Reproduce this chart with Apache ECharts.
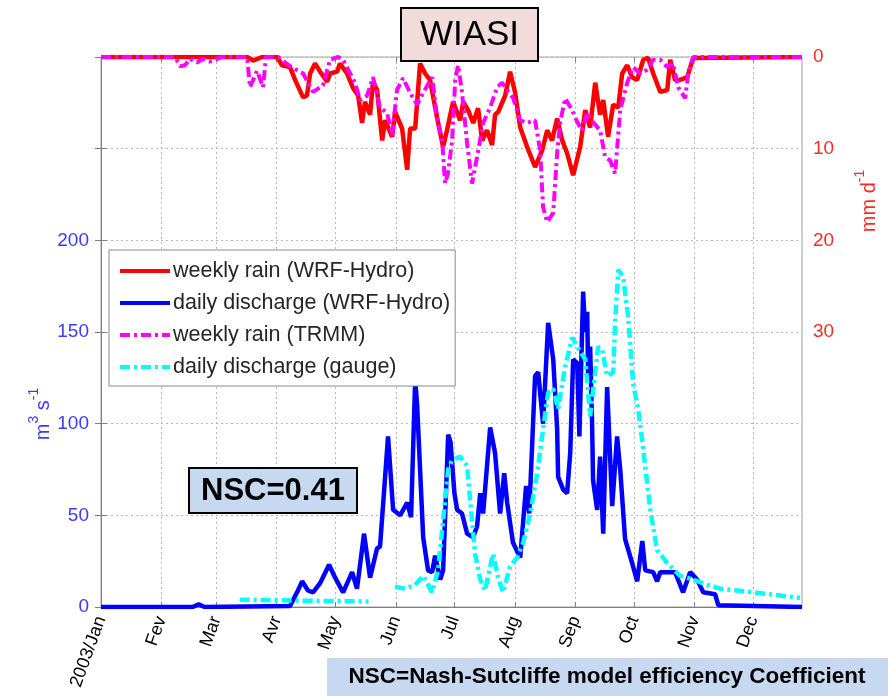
<!DOCTYPE html>
<html>
<head>
<meta charset="utf-8">
<script src="https://cdn.jsdelivr.net/npm/echarts@6/dist/echarts.min.js"></script>
<style>
html,body{margin:0;padding:0;background:#fff;}
#c{width:888px;height:696px;}
</style>
</head>
<body>
<div id="c"></div>
<script>
// ---- data (x = day of year 2003, 0 = Jan 1) ----
var monthStarts = [0,31,59,90,120,151,181,212,243,273,304,334];
var monthLabels = ['2003/Jan','Fev','Mar','Avr','May','Jun','Jul','Aug','Sep','Oct','Nov','Dec'];
var seriesNames = ['weekly rain (WRF-Hydro)','daily discharge (WRF-Hydro)','weekly rain (TRMM)','daily discharge (gauge)'];

// weekly rain WRF-Hydro (mm/d)
var rainWrf = [[0,0],[74.8,0],[77.9,0.4],[82.5,0],[90.2,0],[92.7,0.9],[96.8,1.1],[99.4,2.5],[103.5,4.4],[105.5,4.2],[107.1,1.8],[109.6,0.7],[112.2,1.6],[115.8,2.7],[117.3,1.8],[120.9,1.6],[122.4,0.7],[126,1.8],[129.1,3.4],[131.7,4.2],[133.7,7.2],[135.2,4.9],[137.8,6.3],[139.3,2.7],[141.4,3.6],[144,9.1],[145.5,6.9],[149.1,8.7],[150.6,6.0],[154.2,7.8],[156.8,12.3],[158.3,7.8],[160.9,7.8],[163.4,0.7],[166,1.8],[168.5,2.5],[172.1,6.6],[175.2,9.8],[177.2,8.0],[180.3,4.9],[183.9,6.9],[185.5,4.9],[188,5.8],[190.6,7.2],[193.1,5.6],[195.2,9.1],[197.7,8.0],[200.3,9.6],[201.8,6.3],[203.4,6.0],[207,4.2],[209.5,1.6],[212.1,3.9],[214.7,7.7],[218.2,9.8],[222.3,12.0],[225.9,10.2],[228.5,8.0],[231,9.1],[233.6,6.7],[236.2,9.1],[238.7,10.5],[241.8,12.9],[245.4,9.8],[248,5.8],[250.5,7.7],[253.1,2.8],[255.6,6.3],[257.2,4.7],[259.7,8.7],[262.3,5.2],[264.9,5.5],[266.9,1.8],[269.5,0.9],[272,2.2],[274.6,2.5],[277.7,0.3],[280.2,0.1],[282.8,1.8],[286.4,3.8],[290,3.6],[291.5,0.3],[294,2.5],[296.6,2.5],[300.2,2.2],[303.3,0.1],[359,0]];

// daily discharge WRF-Hydro (m3/s)
var dischargeWrf = [[0,0],[47,0],[50,1.5],[53,0],[96.8,0.5],[100.4,8],[103,14],[106,9],[108.6,8],[112.2,13],[116.8,23],[119.9,16],[124,8],[128.6,19],[131.1,10],[134.7,40],[137.8,16],[141.4,32],[142.9,33],[145.5,71],[147,93],[149.6,53],[153.2,50],[156.8,57],[158.8,49],[160.9,124],[161.9,110],[165,38],[167.5,20],[169.6,19],[171.1,28],[173.7,15],[175.2,20],[177.8,94],[179,90],[181,62],[182.4,53],[184.9,51],[187.5,40],[190.6,38],[192.6,44],[194.2,62],[195.7,51],[199.3,98],[201.8,84],[204.4,51],[206.5,73],[208,57],[211,35],[214.7,27],[217.7,66],[219.3,51],[222.3,126],[223.9,128],[226.4,100],[229,155],[231.6,135],[233.6,97],[234.1,71],[236.7,64],[238.7,62],[240.3,84],[241.8,135],[243.9,133],[245,93],[246.9,172],[248,150],[249,161],[249.5,124],[250.5,142],[251.5,100],[252,69],[254.1,53],[255.6,82],[257.2,40],[259.2,120],[261.8,55],[264.3,93],[265.9,75],[268.4,37],[272,24],[274.6,14],[277.2,36],[278.7,20],[282.8,19],[284.8,14],[286.4,19],[290,19],[294,19],[298.1,8],[301.7,19],[305.3,15],[308.4,8],[314.5,7],[316.1,1],[317,0],[359,0]];

// weekly rain TRMM (mm/d)
var rainTrmm = [[0,0],[37.9,0],[40.5,1.0],[43,0.9],[45.6,0.2],[49.2,0.6],[52.3,0.2],[55.8,0.5],[59.4,0.2],[62,0],[74.8,0],[76.3,3.3],[79.9,1.5],[83,3.3],[84.5,0],[90.7,0],[96.8,1.0],[103.5,1.8],[108.6,3.8],[113.7,3.1],[117.3,0.3],[121.4,0],[124,0.3],[127.6,1.8],[130.1,2.8],[132.7,4.7],[136.3,4.2],[139.3,2.2],[142.9,5.5],[146.5,6.1],[149.1,8.5],[151.6,3.6],[154.7,2.3],[158.3,3.9],[161.9,5.2],[165,3.9],[169.6,2.2],[172.1,6.6],[174.7,9.1],[176.2,13.8],[177.7,12.7],[179.8,9.1],[181.4,2.5],[182.9,0.9],[184.9,3.9],[187.5,9.4],[190,13.8],[192.6,10.9],[195.7,7.2],[199.3,5.5],[202.9,3.3],[205.4,2.8],[208,3.6],[211.1,4.5],[214.7,6.9],[218.2,7.2],[222.3,6.9],[224.9,10.2],[226.4,16.4],[228.5,18.0],[231.6,17.0],[233.6,10.5],[235.1,7.2],[237.7,4.5],[241.3,5.8],[243.9,7.1],[246.4,8.0],[249,6.1],[252,7.1],[255.6,8.0],[258.2,10.9],[260.8,11.3],[263.3,12.7],[265.9,5.8],[269.5,2.8],[272.5,1.1],[276.1,1.8],[279.7,1.4],[282.8,0.3],[286.4,0.3],[290,1.1],[293,0.7],[295.6,3.3],[299.2,4.5],[300.7,1.8],[303.3,0],[359,0]];

// daily discharge gauge (m3/s)
var dischargeGauge = [[71,4],[100,3.5],[137,3],[137.5,'-'],[150.6,11],[155.7,10],[160.9,12],[165,17],[169.6,8],[172.6,20],[175.2,47],[177.8,75],[179.8,80],[183.9,82],[187.5,77],[190,47],[191.6,29],[194.2,15],[196.7,9],[199.3,22],[200.8,29],[203.4,16],[205.9,8],[209.5,22],[213.1,27],[216.2,35],[219.8,51],[223.4,73],[226.4,97],[229,117],[231.6,119],[234.1,108],[237.7,131],[241.3,147],[243.9,142],[248,135],[250.5,104],[254.6,142],[256.7,140],[259.2,126],[262.3,128],[263.3,155],[264.9,184],[267.4,180],[270,158],[272.5,122],[275.1,108],[277.7,86],[281.3,53],[284.8,31],[290,24],[296.6,17],[303.3,15],[310.5,12],[317.1,10],[334,8],[358,5]];

var leftMaxLabel = 200;
var rightMaxLabel = 30;

// ---- chart ----
var FONT = 'Liberation Sans, Arial, sans-serif';
var chart = echarts.init(document.getElementById('c'), null, {renderer:'canvas'});
var dashDot = [10,4,3,4];
var gridLine = {show:true, lineStyle:{color:'#b8b8b8', type:[2,3], width:1}};

chart.setOption({
  animation:false,
  backgroundColor:'#fff',
  grid:{left:101, right:86, top:57, bottom:89, show:true, borderColor:'#a0a0a0', borderWidth:1, backgroundColor:'transparent'},
  legend:{
    orient:'vertical', left:109, top:250,
    backgroundColor:'#fff', borderColor:'#888', borderWidth:1,
    padding:[10,5,8,9], itemGap:10, itemWidth:50, itemHeight:21,
    itemStyle:{opacity:0},
    lineStyle:{width:4},
    textStyle:{fontFamily:FONT, fontSize:21.5, color:'#262626', padding:[0,0,0,-2]},
    data:seriesNames, z:10
  },
  xAxis:[{
    type:'value', min:0, max:359,
    axisLine:{show:true, lineStyle:{color:'#808080'}},
    axisTick:{show:true, inside:true, length:5, customValues:monthStarts, lineStyle:{color:'#808080'}},
    axisLabel:{show:true, customValues:monthStarts, rotate:70, margin:10, fontFamily:FONT, fontSize:18, color:'#000',
      formatter:function(v){var i=monthStarts.indexOf(Math.round(v)); return i>=0?monthLabels[i]:'';}},
    splitLine:{show:true, customValues:monthStarts, lineStyle:{color:'#b8b8b8', type:[2,3], width:1}}
  },{
    type:'value', min:0, max:359, position:'top',
    axisLine:{show:false},
    axisTick:{show:true, inside:true, length:5, customValues:monthStarts, lineStyle:{color:'#808080'}},
    axisLabel:{show:false}, splitLine:{show:false}
  }],
  yAxis:[{
    type:'value', min:0, max:300, interval:50, position:'left',
    axisLine:{show:true, lineStyle:{color:'#808080'}},
    axisTick:{show:true, inside:true, length:6, lineStyle:{color:'#808080'}},
    axisLabel:{margin:12, fontFamily:FONT, fontSize:19, color:'#3b3bff',
      formatter:function(v){return v<=leftMaxLabel?String(v):'';}},
    splitLine:gridLine
  },{
    type:'value', min:0, max:60, interval:10, position:'right', inverse:true,
    axisLine:{show:true, lineStyle:{color:'#808080'}},
    axisTick:{show:true, inside:true, length:6, lineStyle:{color:'#808080'}},
    axisLabel:{margin:11, fontFamily:FONT, fontSize:19, color:'#ff2a2a',
      formatter:function(v){return v<=rightMaxLabel?String(v):'';}},
    splitLine:{show:false}
  }],
  series:[
    {name:seriesNames[0], type:'line', yAxisIndex:1, data:rainWrf, symbol:'none', showSymbol:false,
      lineStyle:{color:'#ff0000', width:4.5}, itemStyle:{color:'#ff0000'}, z:2},
    {name:seriesNames[1], type:'line', yAxisIndex:0, data:dischargeWrf, symbol:'none', showSymbol:false,
      lineStyle:{color:'#0000ff', width:4.5}, itemStyle:{color:'#0000ff'}, z:3},
    {name:seriesNames[2], type:'line', yAxisIndex:1, data:rainTrmm, symbol:'none', showSymbol:false,
      lineStyle:{color:'#ff00ff', width:4, type:dashDot}, itemStyle:{color:'#ff00ff'}, z:4},
    {name:seriesNames[3], type:'line', yAxisIndex:0, data:dischargeGauge, symbol:'none', showSymbol:false, connectNulls:false,
      lineStyle:{color:'#00ffff', width:4.5, type:dashDot}, itemStyle:{color:'#00ffff'}, z:5}
  ],
  graphic:[
    {type:'rect', z:100, shape:{x:401, y:8, width:137, height:53}, style:{fill:'#f2dcdb', stroke:'#000', lineWidth:2}},
    {type:'text', z:101, x:469.5, y:35, style:{text:'WIASI', fontFamily:FONT, fontSize:35, fill:'#000', align:'center', verticalAlign:'middle'}},
    {type:'rect', z:100, shape:{x:189, y:468, width:168, height:45}, style:{fill:'#c6d9f1', stroke:'#000', lineWidth:2}},
    {type:'text', z:101, x:273, y:491, style:{text:'NSC=0.41', fontFamily:FONT, fontWeight:'bold', fontSize:31, fill:'#000', align:'center', verticalAlign:'middle'}},
    {type:'rect', z:100, shape:{x:327, y:658, width:561, height:38}, style:{fill:'#c6d9f1'}},
    {type:'text', z:101, x:607, y:677, style:{text:'NSC=Nash-Sutcliffe model efficiency Coefficient', fontFamily:FONT, fontWeight:'bold', fontSize:22.5, fill:'#000', align:'center', verticalAlign:'middle'}},
    {type:'text', z:101, x:40, y:414, rotation:Math.PI/2, style:{
      text:'{n|m}{s|3}{n| s}{s|-1}', align:'center', verticalAlign:'middle', fill:'#3b3bff',
      rich:{n:{fontFamily:FONT, fontSize:20, fill:'#3b3bff', verticalAlign:'bottom', lineHeight:26},
            s:{fontFamily:FONT, fontSize:14, fill:'#3b3bff', verticalAlign:'top', lineHeight:26}}}},
    {type:'text', z:101, x:866, y:201, rotation:Math.PI/2, style:{
      text:'{n|mm d}{s|-1}', align:'center', verticalAlign:'middle', fill:'#ff2a2a',
      rich:{n:{fontFamily:FONT, fontSize:20, fill:'#ff2a2a', verticalAlign:'bottom', lineHeight:26},
            s:{fontFamily:FONT, fontSize:14, fill:'#ff2a2a', verticalAlign:'top', lineHeight:26}}}}
  ]
});
</script>
</body>
</html>
